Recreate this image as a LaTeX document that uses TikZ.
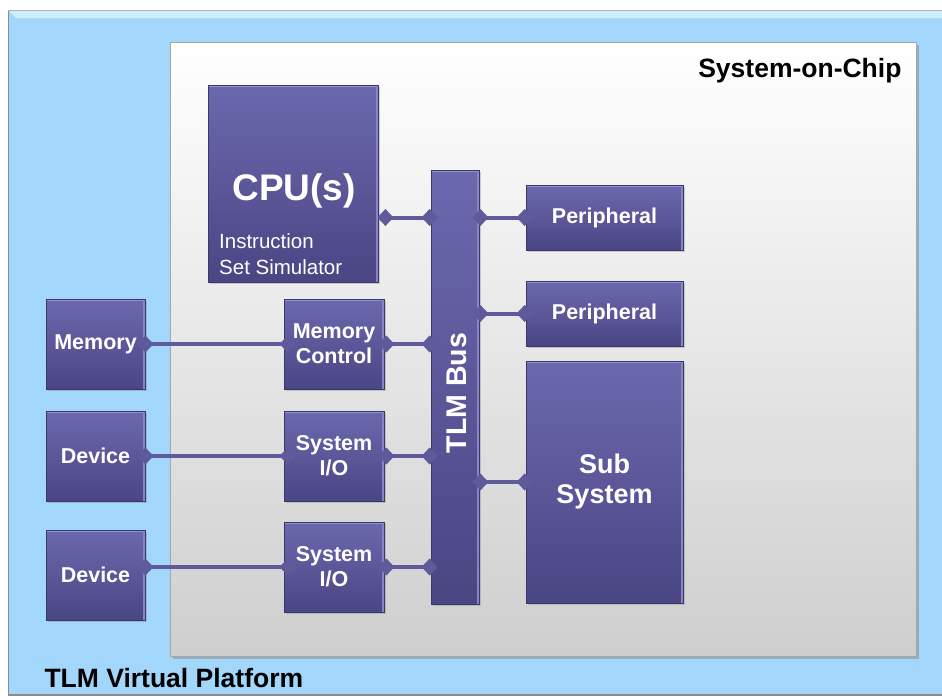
\documentclass[tikz,border=0pt]{standalone}
\usepackage{fontspec}
\setmainfont{Liberation Sans}
\usetikzlibrary{shadows,decorations.markings}
\definecolor{platblue}{HTML}{A2D6FA}
\definecolor{platlight}{HTML}{CDEFFD}
\definecolor{boxtop}{HTML}{6C68AE}
\definecolor{boxbot}{HTML}{4A4684}
\definecolor{boxedge}{HTML}{3A376A}
\definecolor{boxhi}{HTML}{9490D2}
\definecolor{wire}{HTML}{5F5B9A}
\begin{document}
\begin{tikzpicture}[x=1pt,y=-1pt,
  blk/.style={rectangle, inner sep=0pt, top color=boxtop, bottom color=boxbot,
    draw=boxedge, line width=0.8pt,
    drop shadow={shadow xshift=2pt, shadow yshift=-2pt, opacity=0.35},
    path picture={\draw[boxhi, line width=2.5pt]
      ([yshift=-1.2pt]path picture bounding box.north west) -- ([yshift=-1.2pt]path picture bounding box.north east);
      \draw[boxhi!70!boxtop, line width=1.5pt]
      ([xshift=-1pt]path picture bounding box.north east) -- ([xshift=-1pt]path picture bounding box.south east);},
    text=white, align=center},
  lbl/.style={font=\fontsize{21.5}{25}\selectfont\bfseries},
  big/.style={font=\fontsize{27}{30}\selectfont\bfseries},
  dmd/.style={fill=wire, draw=none},
  wirestyle/.style={draw=wire, line width=4pt,
    postaction={decorate},
    decoration={markings,
      mark=at position 0 with {\path[dmd] (-8pt,0pt) -- (0pt,8.5pt) -- (8pt,0pt) -- (0pt,-8.5pt) -- cycle;},
      mark=at position 1 with {\path[dmd] (-8pt,0pt) -- (0pt,8.5pt) -- (8pt,0pt) -- (0pt,-8.5pt) -- cycle;}}}
]
\useasboundingbox (0,0) rectangle (942,699);
\fill[white] (0,0) rectangle (942,699);
% platform frame
\fill[platblue, draw=black!45, line width=0.8pt] (8,10) rectangle (946,695);
\fill[platlight] (8.5,10.5) -- (942,10.5) -- (942,18) -- (16,18) -- cycle;
\draw[black!30, line width=0.8pt] (8,10) -- (942,10);
\draw[black!45, line width=1.2pt] (8,695) -- (942,695);
\node[anchor=base west, font=\fontsize{26.5}{30}\selectfont\bfseries] (tvp) at (41,687) {TLM Virtual Platform};
% SoC box
\node[rectangle, inner sep=0pt, minimum width=746pt, minimum height=614pt,
  top color=white, bottom color=black!19, draw=black!35, line width=0.6pt,
  drop shadow={shadow xshift=3pt, shadow yshift=-3pt, opacity=0.45}] (soc) at (543,349) {};
\node[anchor=base east, font=\fontsize{26.5}{30}\selectfont\bfseries] (soclbl) at (905,77) {System-on-Chip};
% blocks
\node[blk, minimum width=170pt, minimum height=197pt] (cpu) at (293,183.5) {};
\node[font=\fontsize{37}{40}\selectfont\bfseries, text=white] (cputxt) at (294,191) {CPU(s)};
\node[anchor=west, align=left, text=white, font=\fontsize{20.5}{26}\selectfont, inner sep=0pt] (iss) at (219,254) {Instruction\\Set Simulator};
\node[blk, minimum width=48pt, minimum height=434pt] (bus) at (455,387) {};
\node[rotate=90, text=white, font=\fontsize{28.5}{32}\selectfont\bfseries] (bustxt) at (457,393) {TLM Bus};
\node[blk, lbl, minimum width=157pt, minimum height=65pt] (p1) at (604.5,217.5) {Peripheral};
\node[blk, lbl, minimum width=157pt, minimum height=65pt] (p2) at (604.5,313.5) {Peripheral};
\node[blk, big, minimum width=157pt, minimum height=242pt] (sub) at (604.5,482) {Sub\\System};
\node[blk, lbl, minimum width=99pt, minimum height=90pt] (mem) at (95.5,344) {Memory};
\node[blk, lbl, minimum width=99pt, minimum height=90pt] (dev1) at (95.5,456) {Device};
\node[blk, lbl, minimum width=99pt, minimum height=90pt] (dev2) at (95.5,575) {Device};
\node[blk, lbl, minimum width=100pt, minimum height=90pt] (mc) at (334,344) {Memory\\Control};
\node[blk, lbl, minimum width=100pt, minimum height=90pt] (sio1) at (334,456) {System\\I/O};
\node[blk, lbl, minimum width=100pt, minimum height=90pt] (sio2) at (334,567) {System\\I/O};
% connectors
\draw[wirestyle] ([xshift=7pt]cpu.east |- p1.west) -- ([xshift=-1pt]bus.west |- p1.west);
\draw[wirestyle] ([xshift=1pt]bus.east |- p1.west) -- ([xshift=-1pt]p1.west);
\draw[wirestyle] ([xshift=1pt]bus.east |- p2.west) -- ([xshift=-1pt]p2.west);
\draw[wirestyle] ([xshift=1pt]bus.east |- sub.west) -- ([xshift=-1pt]sub.west);
\draw[wirestyle] (mem.east) -- ([xshift=4pt]mc.west);
\draw[wirestyle] ([xshift=2pt]mc.east) -- ([xshift=-1pt]bus.west |- mc.east);
\draw[wirestyle] (dev1.east) -- ([xshift=4pt]sio1.west);
\draw[wirestyle] ([xshift=2pt]sio1.east) -- ([xshift=-1pt]bus.west |- sio1.east);
\draw[wirestyle] (dev2.east |- sio2.west) -- ([xshift=4pt]sio2.west);
\draw[wirestyle] ([xshift=2pt]sio2.east) -- ([xshift=-1pt]bus.west |- sio2.east);
\end{tikzpicture}
\end{document}
